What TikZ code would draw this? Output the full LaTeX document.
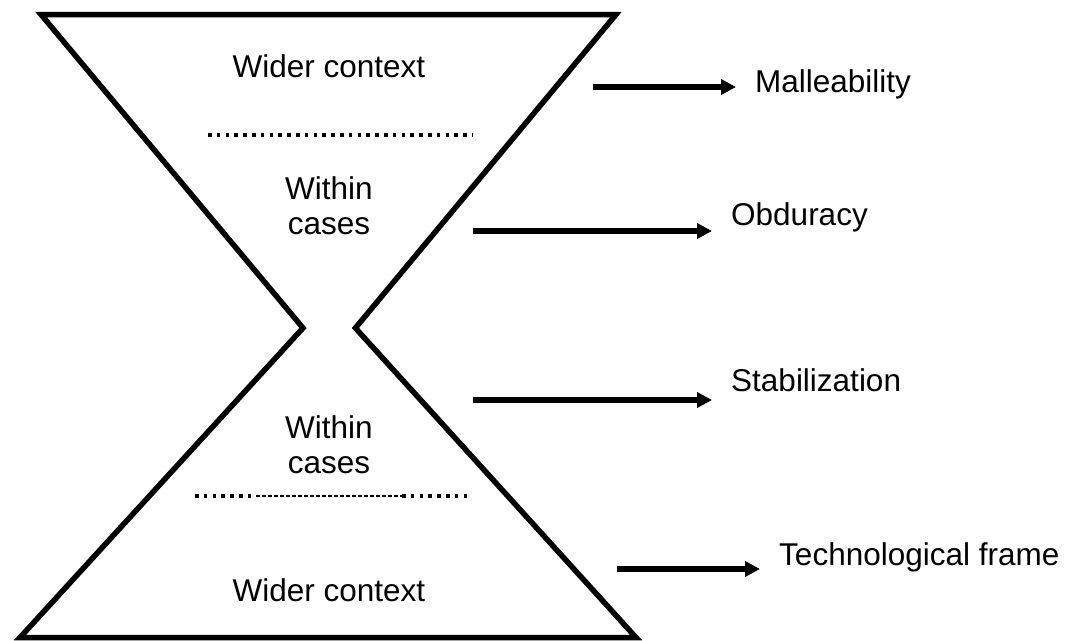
\documentclass[tikz,border=0pt]{standalone}
\usepackage{fontspec}
\setmainfont{Liberation Sans}
\usetikzlibrary{arrows.meta}
\begin{document}
\begin{tikzpicture}[x=1pt,y=-1pt,
  glass/.style={line width=5.5pt,line join=miter},
  dotline/.style={line width=4pt,dash pattern=on 3.6pt off 5.2pt},
  thinline/.style={line width=1.8pt,dash pattern=on 4pt off 2pt},
  flow/.style={line width=5.5pt,-{Triangle[length=15pt,width=15pt]}},
  lbl/.style={font=\fontsize{31.5}{35}\selectfont,inner sep=0pt,anchor=base},
  side/.style={font=\fontsize{31.5}{35}\selectfont,inner sep=0pt,anchor=base west}]
\useasboundingbox (0,0) rectangle (1071,640);
% hourglass corners
\coordinate (tl) at (41,14.5);
\coordinate (tr) at (616,14.5);
\coordinate (wl) at (303,328);
\coordinate (wr) at (355.4,328);
\coordinate (bl) at (20,637.5);
\coordinate (br) at (636,637.5);
\draw[glass] (tl) -- (wl) -- (bl) -- (br) -- (wr) -- (tr) -- cycle;
% dotted separators
\coordinate (d1a) at (208,135);
\coordinate (d1b) at (473,135);
\draw[dotline] (d1a) -- (d1b);
\coordinate (d2a) at (195,496);
\coordinate (d2b) at (256,496);
\coordinate (d2c) at (402,496);
\coordinate (d2d) at (469,496);
\draw[dotline] (d2a) -- (d2b);
\draw[thinline] (d2b) -- (d2c);
\draw[dotline] (d2c) -- (d2d);
% texts inside
\node[lbl] (wct) at (329,77) {Wider context};
\node[lbl] (wit) at (329,199) {Within};
\node[lbl] (cat) at (329,234) {cases};
\node[lbl] (wib) at (329,438) {Within};
\node[lbl] (cab) at (329,473) {cases};
\node[lbl] (wcb) at (329,601) {Wider context};
% side labels
\node[side] (mal) at (755,92) {Malleability};
\node[side] (obd) at (731,225) {Obduracy};
\node[side] (sta) at (731,391) {Stabilization};
\node[side] (tec) at (779,565) {Technological frame};
% arrows
\coordinate (a1s) at (593,87);  \coordinate (a1e) at (736,87);
\coordinate (a2s) at (473,231); \coordinate (a2e) at (712,231);
\coordinate (a3s) at (473,400); \coordinate (a3e) at (712,400);
\coordinate (a4s) at (617,569); \coordinate (a4e) at (760,569);
\draw[flow] (a1s) -- (a1e);
\draw[flow] (a2s) -- (a2e);
\draw[flow] (a3s) -- (a3e);
\draw[flow] (a4s) -- (a4e);
\end{tikzpicture}
\end{document}
